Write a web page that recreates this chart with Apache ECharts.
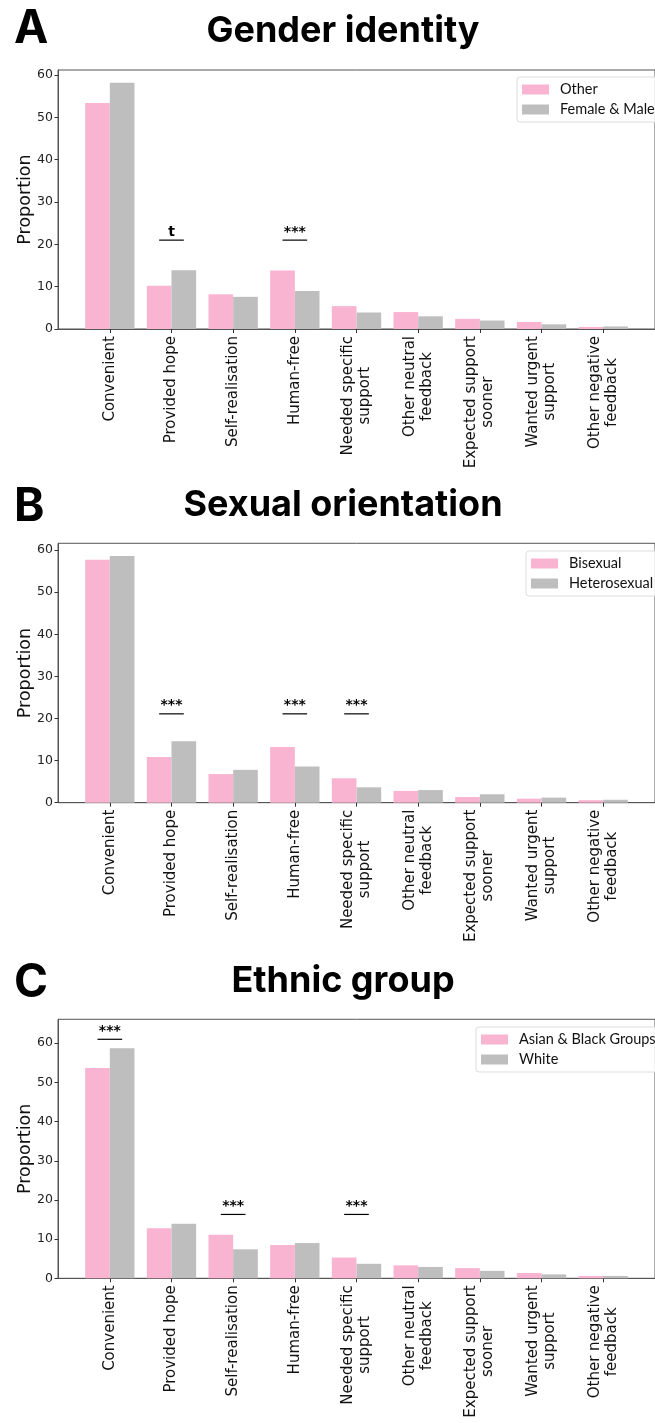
<!DOCTYPE html>
<html>
<head>
<meta charset="utf-8">
<script src="https://cdn.jsdelivr.net/npm/echarts@6/dist/echarts.min.js"></script>
<style>
html,body{margin:0;padding:0;background:#fff;}
#chart{width:655px;height:1423px;}
</style>
</head>
<body>
<div id="chart"></div>
<script>
// ---- data ----
const categories = ['Convenient', 'Provided hope', 'Self-realisation', 'Human-free',
  'Needed specific\nsupport', 'Other neutral\nfeedback', 'Expected support\nsooner',
  'Wanted urgent\nsupport', 'Other negative\nfeedback'];

const genderOther = [53.4, 10.2, 8.2, 13.8, 5.4, 4.0, 2.4, 1.65, 0.5];
const genderFemaleMale = [58.2, 13.9, 7.6, 9.0, 3.9, 3.0, 2.0, 1.1, 0.6];
const sexBisexual = [57.7, 10.85, 6.8, 13.2, 5.8, 2.8, 1.35, 0.95, 0.6];
const sexHeterosexual = [58.6, 14.6, 7.8, 8.6, 3.65, 3.0, 2.0, 1.2, 0.7];
const ethAsianBlack = [53.7, 12.8, 11.1, 8.5, 5.3, 3.3, 2.6, 1.35, 0.6];
const ethWhite = [58.7, 13.95, 7.4, 9.0, 3.7, 2.9, 1.9, 1.0, 0.6];

// significance markers: [category index, height, label]
const genderSig = [[1, 21.0, 't'], [3, 21.0, '***']];
const sexSig = [[1, 21.1, '***'], [3, 21.1, '***'], [4, 21.1, '***']];
const ethSig = [[0, 61.0, '***'], [2, 16.3, '***'], [4, 16.3, '***']];

const yTickValues = [0, 10, 20, 30, 40, 50, 60];
const yMaxes = [61.2, 61.6, 66.1];
const panelTitles = ['Gender identity', 'Sexual orientation', 'Ethnic group'];
const panelLetters = ['A', 'B', 'C'];
const legendNames = [['Other', 'Female & Male'], ['Bisexual', 'Heterosexual'], ['Asian & Black Groups', 'White']];

// ---- layout ----
const PINK = '#f9b4d2';
const GREY = '#bebebe';
const tickFont = 'DejaVu Sans';
const gridTops = [70, 543.3, 1019.3];
const gridHeights = [259, 259.4, 259];
const legendPos = [[517, 77], [526, 551], [476, 1027]];
const letterTops = [6, 484, 960];
const titleY = [31, 505, 981];

const seriesPairs = [[genderOther, genderFemaleMale], [sexBisexual, sexHeterosexual], [ethAsianBlack, ethWhite]];
const sigSets = [genderSig, sexSig, ethSig];
const xIdx = categories.map((c, i) => i);

const grids = [], xAxes = [], yAxes = [], series = [], legends = [], graphics = [];

for (let p = 0; p < 3; p++) {
  grids.push({left: 58, top: gridTops[p], width: 608, height: gridHeights[p],
    show: true, borderColor: '#555', borderWidth: 1, backgroundColor: 'transparent'});
  xAxes.push({
    type: 'value', gridIndex: p, min: -0.84, max: 8.84,
    splitLine: {show: false},
    axisLine: {show: true, onZero: false, lineStyle: {color: '#555', width: 1}},
    axisTick: {show: true, length: 4, lineStyle: {color: '#333'}, customValues: xIdx},
    axisLabel: {
      customValues: xIdx, rotate: 90, margin: 7,
      formatter: v => {
        const c = categories[Math.round(v)];
        if (c === undefined) return '';
        return c.split('\n').map(s => '{c|' + s + '}').join('\n');
      },
      rich: {c: {align: 'center', fontFamily: tickFont, fontSize: 15, color: '#111', lineHeight: 17}}
    }
  });
  yAxes.push({
    type: 'value', gridIndex: p, min: 0, max: yMaxes[p],
    name: 'Proportion', nameLocation: 'middle', nameGap: 24, nameMoveOverlap: false,
    nameTextStyle: {fontFamily: tickFont, fontSize: 17.5, color: '#111'},
    splitLine: {show: false},
    axisLine: {show: true, onZero: false, lineStyle: {color: '#555', width: 1}},
    axisTick: {show: true, length: 3.5, lineStyle: {color: '#333'}, customValues: yTickValues},
    axisLabel: {customValues: yTickValues, margin: 5, fontFamily: tickFont, fontSize: 12.5, color: '#222'}
  });
  const pair = seriesPairs[p];
  [0, 1].forEach(k => {
    series.push({
      type: 'bar', name: legendNames[p][k], xAxisIndex: p, yAxisIndex: p,
      data: pair[k].map((v, i) => [i, v]),
      barWidth: '40%', barGap: '0%',
      itemStyle: {color: k === 0 ? PINK : GREY},
      emphasis: {disabled: true}, animation: false
    });
  });
  const sig = sigSets[p];
  series.push({
    type: 'custom', xAxisIndex: p, yAxisIndex: p, animation: false, silent: true,
    data: sig.map(s => [s[0], s[1]]),
    renderItem: (params, api) => {
      const x = api.value(0), y = api.value(1);
      const a = api.coord([x - 0.2, y]);
      const b = api.coord([x + 0.2, y]);
      const lbl = sig[params.dataIndex][2];
      return {
        type: 'group',
        children: [
          {type: 'line', shape: {x1: a[0], y1: a[1], x2: b[0], y2: b[1]},
           style: {stroke: '#000', lineWidth: 1.2}},
          {type: 'text', x: (a[0] + b[0]) / 2, y: a[1] - 1,
           style: {text: lbl, align: 'center', verticalAlign: 'bottom',
                   font: 'bold 14px "DejaVu Sans"', fill: '#000'}}
        ]
      };
    }
  });
  legends.push({
    data: legendNames[p], orient: 'vertical', left: legendPos[p][0], top: legendPos[p][1],
    icon: 'rect', itemWidth: 27, itemHeight: 10, itemGap: 5,
    padding: [5, 8, 5, 5],
    backgroundColor: 'rgba(255,255,255,0.85)', borderColor: '#ddd', borderWidth: 1, borderRadius: 3,
    textStyle: {fontFamily: 'Lato', fontSize: 14.5, color: '#111', lineHeight: 14, padding: [0, 0, 0, 6]},
    selectedMode: false
  });
  graphics.push({type: 'text', left: 14, top: letterTops[p],
    style: {text: panelLetters[p], font: 'bold 46px Inter', fill: '#000'}});
  graphics.push({type: 'text', x: 343, y: titleY[p],
    style: {text: panelTitles[p], font: 'bold 36px Inter', fill: '#000', align: 'center', verticalAlign: 'middle'}});
}

const chart = echarts.init(document.getElementById('chart'), null, {renderer: 'canvas'});
chart.setOption({
  animation: false,
  grid: grids, xAxis: xAxes, yAxis: yAxes, series: series, legend: legends, graphic: graphics
});
</script>
</body>
</html>
